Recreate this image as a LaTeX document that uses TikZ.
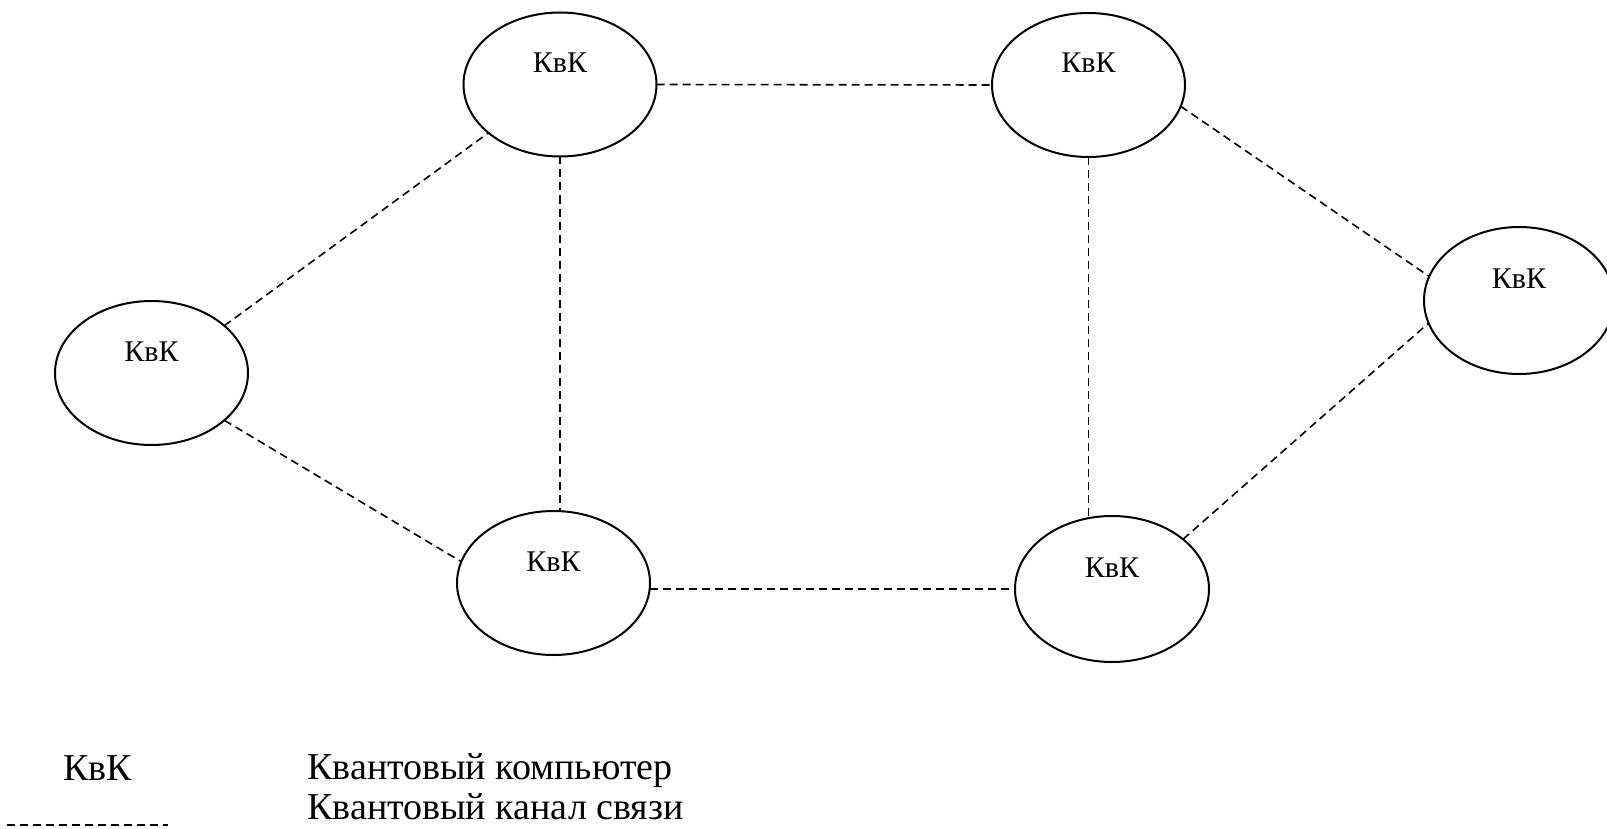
\documentclass[tikz,border=0pt]{standalone}
\usepackage{fontspec}
\setmainfont{Liberation Serif}
\usetikzlibrary{shapes.geometric}

\tikzset{
  kvk/.style={ellipse, draw, line width=1pt, inner sep=0pt, outer sep=0pt,
    minimum width=96.5pt, minimum height=72pt,
    font=\fontsize{15}{17}\selectfont, text height=2pt, text depth=14pt},
  qlink/.style={line width=0.8pt, dash pattern=on 4pt off 2.5pt},
  legtext/.style={anchor=base west, inner sep=0pt, font=\fontsize{19}{22}\selectfont}
}

\begin{document}
\begin{tikzpicture}[x=0.5pt,y=-0.5pt]
\useasboundingbox (0,0) rectangle (1607,829);

% quantum computers
\node[kvk] (tl) at (560,84.5) {КвК};
\node[kvk] (tr) at (1088.5,85) {КвК};
\node[kvk] (l) at (151.5,373) {КвК};
\node[kvk] (bl) at (553.5,583) {КвК};
\node[kvk, minimum width=97pt, minimum height=73pt] (br) at (1112,589) {КвК};
\node[kvk, minimum width=95pt, minimum height=73.5pt] (r) at (1519,300.5) {КвК};

% quantum channels
\draw[qlink] (tl.east) -- (tr.west);
\draw[qlink] (tl.south) -- (tl.south |- bl.north);
\draw[qlink] (tr.south) -- (tr.south |- br.north);
\draw[qlink] (bl.east |- br.west) -- (br.west);
\draw[qlink] (l.33) -- (tl.214);
\draw[qlink] (l.-33) -- (bl.167.6);
\draw[qlink] (tr.-13.5) -- (r.165);
\draw[qlink] (br.35) -- (r.-166);

% legend
\node[legtext] (lkvk) at (63,780) {КвК};
\node[legtext] (lcomp) at (307,779) {Квантовый компьютер};
\node[legtext] (lchan) at (307,819) {Квантовый канал связи};
\coordinate (lstart) at (7,825);
\coordinate (lend) at (168,825);
\draw[qlink] (lstart) -- (lend);
\end{tikzpicture}
\end{document}
